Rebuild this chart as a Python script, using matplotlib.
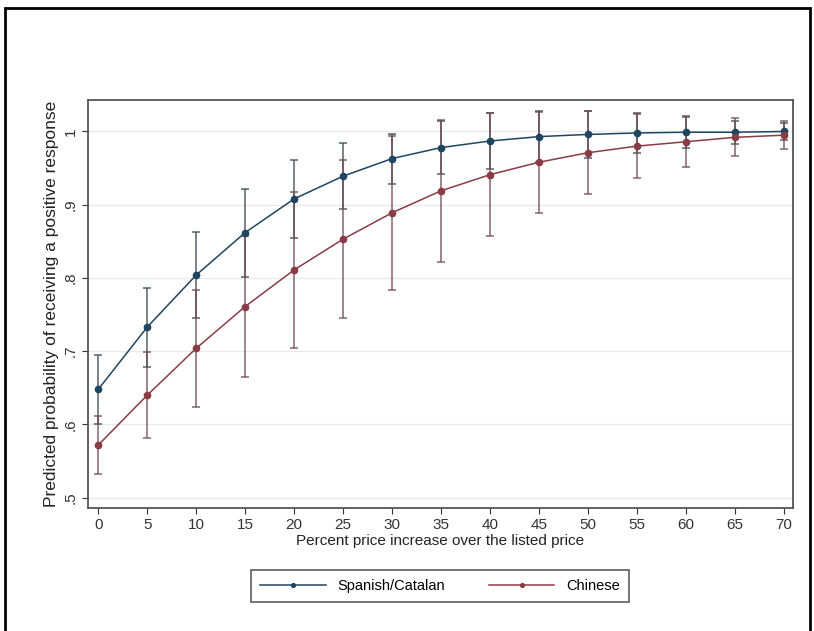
import matplotlib
matplotlib.use("Agg")
import matplotlib.pyplot as plt
from matplotlib.patches import Rectangle

plt.rcParams['font.family'] = ['Liberation Sans', 'DejaVu Sans']

pct = [0, 5, 10, 15, 20, 25, 30, 35, 40, 45, 50, 55, 60, 65, 70]
spanish = [0.648, 0.733, 0.804, 0.862, 0.908, 0.939, 0.963, 0.978, 0.987, 0.993,
           0.996, 0.998, 0.999, 0.999, 1.000]
spanish_ci = [0.047, 0.054, 0.059, 0.060, 0.053, 0.045, 0.034, 0.036, 0.038, 0.035,
              0.032, 0.027, 0.022, 0.016, 0.012]
chinese = [0.572, 0.640, 0.704, 0.761, 0.811, 0.853, 0.889, 0.919, 0.941, 0.958,
           0.971, 0.980, 0.986, 0.992, 0.995]
chinese_ci = [0.040, 0.059, 0.080, 0.096, 0.107, 0.108, 0.105, 0.097, 0.084, 0.069,
              0.057, 0.044, 0.034, 0.026, 0.019]
yticks = [0.5, 0.6, 0.7, 0.8, 0.9, 1.0]
ytick_labels = ['.5', '.6', '.7', '.8', '.9', '1']

navy = '#1f4560'
maroon = '#8a3c44'
ci_navy = '#3a4750'
ci_maroon = '#6e4a50'

fig = plt.figure(figsize=(8.14, 6.31), dpi=100)
ax = fig.add_axes([88 / 814, 1 - 508 / 631, (793 - 88) / 814, (508 - 100) / 631])

# confidence intervals first, then the lines on top
ax.errorbar(pct, spanish, yerr=spanish_ci, fmt='none', ecolor=ci_navy, elinewidth=1.1,
            capsize=3, capthick=1.1, alpha=0.85, zorder=2)
ax.errorbar(pct, chinese, yerr=chinese_ci, fmt='none', ecolor=ci_maroon, elinewidth=1.1,
            capsize=3, capthick=1.1, alpha=0.85, zorder=2)
ax.plot(pct, spanish, '-o', color=navy, lw=1.1, ms=4.5, label='Spanish/Catalan', zorder=3)
ax.plot(pct, chinese, '-o', color=maroon, lw=1.1, ms=4.5, label='Chinese', zorder=3)

ax.set_xlim(-1.05, 70.96)
ax.set_ylim(0.486, 1.043)
ax.set_xticks(pct)
ax.set_yticks(yticks)
ax.set_yticklabels(ytick_labels, rotation=90, va='center')
ax.tick_params(labelsize=11, length=4, color='#333333', labelcolor='#333333')
ax.grid(axis='y', color='#eaeaea', lw=1)
ax.set_axisbelow(True)
for s in ax.spines.values():
    s.set_color('#555555')
    s.set_linewidth(1.3)

ax.set_xlabel('Percent price increase over the listed price', fontsize=11, labelpad=1,
              color='#222222')
ax.set_ylabel('Predicted probability of receiving a positive response', fontsize=12.5,
              labelpad=3, color='#222222')

leg = ax.legend(loc='upper center', bbox_to_anchor=(440 / 814, 1 - 563 / 631),
                bbox_transform=fig.transFigure, ncol=2, fontsize=10.5, frameon=True,
                fancybox=False, edgecolor='#444444', handlelength=4.5, columnspacing=3,
                handletextpad=0.8, borderpad=0.6, markerscale=0.6)
leg.get_frame().set_linewidth(1.3)

# outer frame of the picture
fig.patches.append(Rectangle((5 / 814, -0.05), 805 / 814, 1.05 - 8 / 631,
                             transform=fig.transFigure, fill=False, ec='black', lw=2))

fig.savefig('out.png', dpi=100)
